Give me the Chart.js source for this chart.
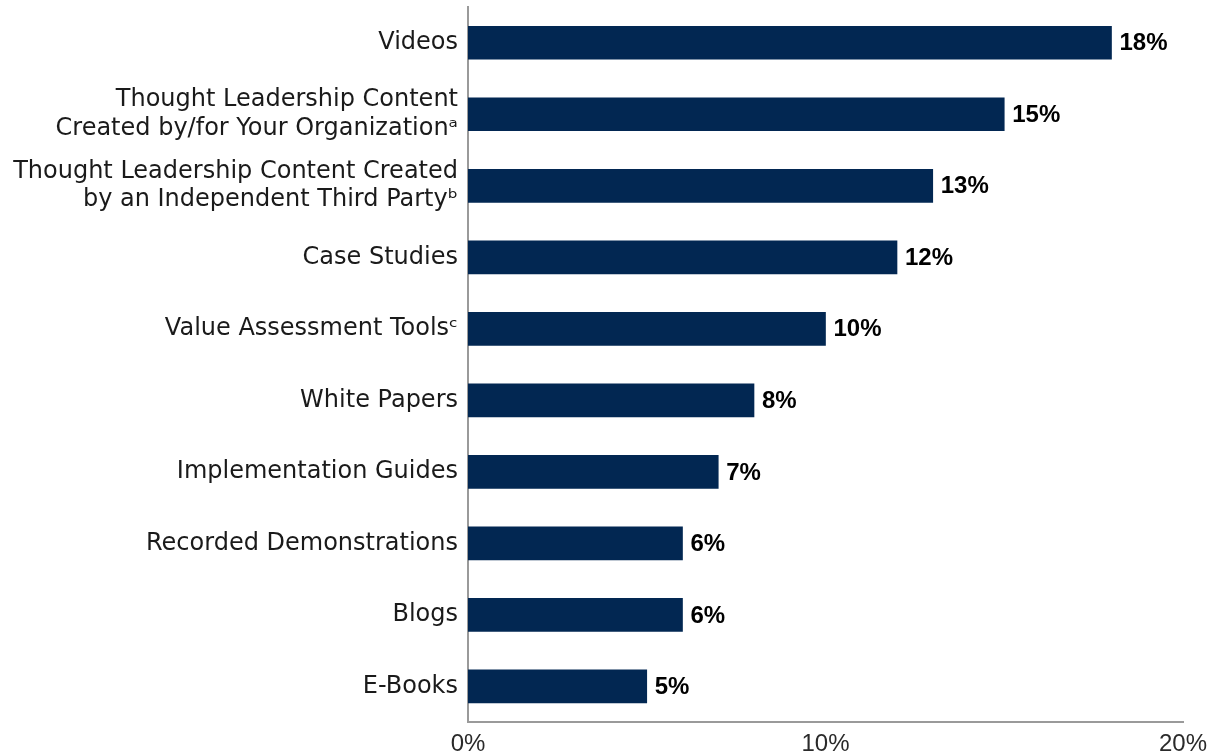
<!DOCTYPE html>
<html>
<head>
<meta charset="utf-8">
<script src="https://cdn.jsdelivr.net/npm/chart.js@4"></script>
<style>
  html, body { margin: 0; padding: 0; background: #ffffff; }
  #wrap { width: 1216px; height: 756px; position: relative; }
</style>
</head>
<body>
<div id="wrap"><canvas id="chart"></canvas></div>
<script>
// Content types and share of respondents (%)
const categories = [
  'Videos',
  ['Thought Leadership Content', 'Created by/for Your Organization\u1D43'],
  ['Thought Leadership Content Created', 'by an Independent Third Party\u1D47'],
  'Case Studies',
  'Value Assessment Tools\u1D9C',
  'White Papers',
  'Implementation Guides',
  'Recorded Demonstrations',
  'Blogs',
  'E-Books'
];
const shares = [18, 15, 13, 12, 10, 8, 7, 6, 6, 5];
const xTicks = [0, 10, 20];

const labelFont = "'DejaVu Sans', sans-serif";
const numFont = "'Liberation Sans', Arial, sans-serif";

// Draw bold value labels at the end of each bar
const valueLabels = {
  id: 'valueLabels',
  afterDatasetsDraw(chart) {
    const ctx = chart.ctx;
    const meta = chart.getDatasetMeta(0);
    ctx.save();
    ctx.font = "bold 24px " + numFont;
    ctx.fillStyle = '#000000';
    ctx.textBaseline = 'middle';
    ctx.textAlign = 'left';
    meta.data.forEach((bar, i) => {
      ctx.fillText(shares[i] + '%', bar.x + 8, bar.y + 1);
    });
    ctx.restore();
  }
};

const ctx = document.getElementById('chart').getContext('2d');
new Chart(ctx, {
  type: 'bar',
  data: {
    labels: categories,
    datasets: [{
      data: shares,
      backgroundColor: '#022752',
      borderWidth: 0,
      barThickness: 33
    }]
  },
  options: {
    indexAxis: 'y',
    responsive: true,
    maintainAspectRatio: false,
    animation: false,
    layout: { padding: { top: 7, right: 33, bottom: -11, left: 0 } },
    plugins: {
      legend: { display: false },
      tooltip: { enabled: false }
    },
    scales: {
      x: {
        min: 0,
        max: 20,
        afterBuildTicks(axis) {
          axis.ticks = xTicks.map(v => ({ value: v }));
        },
        grid: { display: false, drawTicks: false },
        border: { color: '#9a9a9a', width: 2 },
        ticks: {
          color: '#2a2a2a',
          padding: 8,
          maxRotation: 0,
          font: { family: numFont, size: 24 },
          callback: v => v + '%'
        }
      },
      y: {
        grid: { display: false, drawTicks: false },
        border: { color: '#9a9a9a', width: 2 },
        afterFit(axis) {
          axis.width = 468;
          axis.paddingTop = 0;
          axis.paddingBottom = 0;
        },
        ticks: {
          color: '#1a1a1a',
          padding: 10,
          font: { family: labelFont, size: 24, lineHeight: 1.2 }
        }
      }
    }
  },
  plugins: [valueLabels]
});
</script>
</body>
</html>
